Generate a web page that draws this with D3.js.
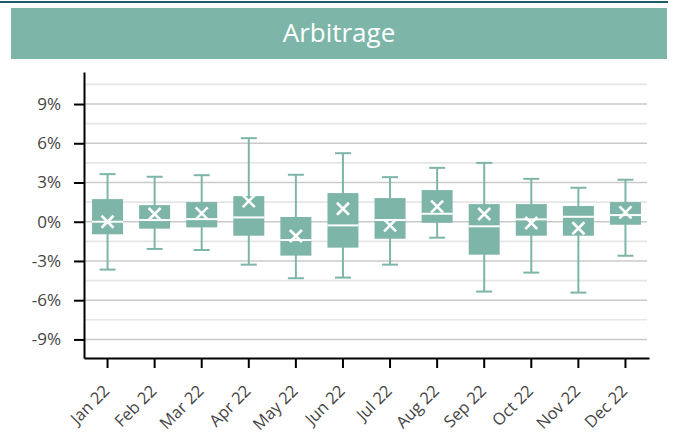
<!DOCTYPE html>
<html>
<head>
<meta charset="utf-8">
<script src="https://cdn.jsdelivr.net/npm/d3@7"></script>
<style>
  html, body { margin: 0; padding: 0; background: #fff; }
  svg { display: block; }
</style>
</head>
<body>
<script>
const months = ["Jan 22","Feb 22","Mar 22","Apr 22","May 22","Jun 22","Jul 22","Aug 22","Sep 22","Oct 22","Nov 22","Dec 22"];
const whiskerHigh = [3.64, 3.44, 3.56, 6.39, 3.59, 5.24, 3.41, 4.12, 4.50, 3.28, 2.60, 3.21];
const q3 =          [1.73, 1.27, 1.50, 1.96, 0.36, 2.19, 1.81, 2.42, 1.35, 1.35, 1.20, 1.50];
const median =      [0.00, 0.13, 0.20, 0.33, -1.40, -0.28, 0.13, 0.61, -0.35, 0.18, 0.38, 0.51];
const mean =        [0.00, 0.59, 0.64, 1.58, -1.09, 0.99, -0.28, 1.15, 0.59, -0.10, -0.50, 0.72];
const q1 =          [-0.96, -0.53, -0.43, -1.07, -2.59, -1.98, -1.30, -0.08, -2.52, -1.07, -1.07, -0.23];
const whiskerLow =  [-3.66, -2.08, -2.16, -3.28, -4.32, -4.27, -3.28, -1.22, -5.34, -3.89, -5.42, -2.60];
const yTicks = [-9, -6, -3, 0, 3, 6, 9];
const gridValues = [-9, -7.5, -6, -4.5, -3, -1.5, 0, 1.5, 3, 4.5, 6, 7.5, 9, 10.5];
const title = "Arbitrage";

(function () {
const W = 674, H = 440;
const teal = "#7db6a9";
const font = "'Open Sans', 'Noto Sans', sans-serif";

const svg = d3.select("body").append("svg").attr("width", W).attr("height", H);

// top dark line
svg.append("rect").attr("x", 0).attr("y", 1).attr("width", 668).attr("height", 2).attr("fill", "#1d5a6b");
// title band
svg.append("rect").attr("x", 11).attr("y", 8).attr("width", 656).attr("height", 51).attr("fill", teal);
svg.append("text").attr("x", 339).attr("y", 42).attr("text-anchor", "middle")
  .attr("fill", "#fff").style("font-family", font).style("font-size", "26px").text(title);

const mLeft = 84, mRight = 649, mTop = 72, mBottom = 358;
const x = d3.scaleBand().domain(months).range([mLeft, mRight]).padding(0);
const y = d3.scaleLinear().domain([-10.42, 11.45]).range([mBottom, mTop]);

// gridlines
svg.append("g").selectAll("line").data(gridValues).join("line")
  .attr("x1", mLeft + 1).attr("x2", 647)
  .attr("y1", d => y(d)).attr("y2", d => y(d))
  .attr("stroke", d => (d % 3 === 0) ? "#cacaca" : "#e6e6e6")
  .attr("stroke-width", 1.6);

// boxes
const data = months.map((m, i) => ({m, hi: whiskerHigh[i], q3: q3[i], med: median[i], mean: mean[i], q1: q1[i], lo: whiskerLow[i]}));
const bw = 31, capW = 16;
const g = svg.append("g");
const box = g.selectAll("g.box").data(data).join("g").attr("class", "box")
  .attr("transform", d => `translate(${x(d.m) + x.bandwidth() / 2},0)`);
box.append("line").attr("x1", 0).attr("x2", 0).attr("y1", d => y(d.hi)).attr("y2", d => y(d.lo))
  .attr("stroke", teal).attr("stroke-width", 2);
box.append("line").attr("x1", -capW / 2).attr("x2", capW / 2).attr("y1", d => y(d.hi)).attr("y2", d => y(d.hi))
  .attr("stroke", teal).attr("stroke-width", 2);
box.append("line").attr("x1", -capW / 2).attr("x2", capW / 2).attr("y1", d => y(d.lo)).attr("y2", d => y(d.lo))
  .attr("stroke", teal).attr("stroke-width", 2);
box.append("rect").attr("x", -bw / 2).attr("width", bw)
  .attr("y", d => y(d.q3)).attr("height", d => y(d.q1) - y(d.q3)).attr("fill", teal);
box.append("line").attr("x1", -bw / 2).attr("x2", bw / 2).attr("y1", d => y(d.med)).attr("y2", d => y(d.med))
  .attr("stroke", "#fff").attr("stroke-width", 2);
const xs = 6;
box.append("path").attr("d", d => {
  const cy = y(d.mean);
  return `M${-xs},${cy - xs}L${xs},${cy + xs}M${-xs},${cy + xs}L${xs},${cy - xs}`;
}).attr("stroke", "#fff").attr("stroke-width", 2.6).attr("fill", "none");

// y axis
const yAxis = svg.append("g").attr("transform", `translate(${mLeft},0)`)
  .call(d3.axisLeft(y).tickValues(yTicks).tickFormat(d => d + "%").tickSize(10).tickSizeOuter(0).tickPadding(13));
yAxis.select(".domain").attr("stroke", "#000").attr("stroke-width", 2);
yAxis.selectAll(".tick line").attr("stroke", "#000").attr("stroke-width", 2);
yAxis.selectAll("text").style("font-family", font).style("font-size", "17px").attr("fill", "#444");

// x axis
const xAxis = svg.append("g").attr("transform", `translate(0,${mBottom})`)
  .call(d3.axisBottom(x).tickSize(10).tickSizeOuter(0));
xAxis.select(".domain").attr("stroke", "#000").attr("stroke-width", 2);
xAxis.selectAll(".tick line").attr("stroke", "#000").attr("stroke-width", 2);
xAxis.selectAll("text").style("font-family", font).style("font-size", "16.5px").attr("fill", "#444")
  .attr("x", 0).attr("y", 0).attr("dy", null).attr("text-anchor", "end")
  .attr("transform", "translate(3,34) rotate(-45)");
})();
</script>
</body>
</html>
